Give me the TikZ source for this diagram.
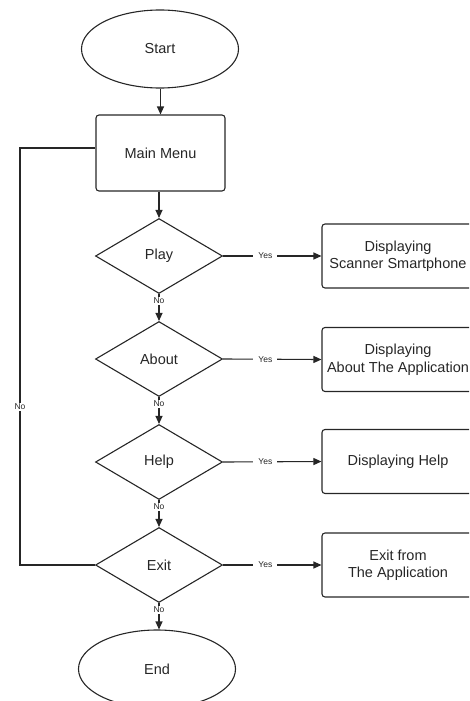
\documentclass[tikz,border=0pt]{standalone}
\usepackage{fontspec}
\setmainfont{Liberation Sans}
\usetikzlibrary{shapes.geometric,arrows.meta}
\definecolor{ink}{HTML}{262626}
\tikzset{
  base/.style={draw=ink, line width=1.1pt, text=ink, font=\fontsize{14.5}{17.5}\selectfont, align=center, inner sep=0pt},
  terminal/.style={base, ellipse, minimum width=157pt, minimum height=78pt},
  process/.style={base, rectangle, rounded corners=3pt, minimum width=129pt, minimum height=76pt},
  outbox/.style={base, rectangle, rounded corners=3pt, minimum width=152pt, minimum height=64pt},
  decision/.style={base, diamond, minimum width=127pt, minimum height=75pt},
  flow/.style={draw=ink, line width=1.1pt, -{Triangle[length=8pt,width=7pt]}},
  tag/.style={fill=white, text=ink, font=\fontsize{8.5}{9}\selectfont, inner sep=1pt},
  yestag/.style={tag, inner xsep=5pt}
}
\begin{document}
\begin{tikzpicture}[x=1pt,y=-1pt]
\useasboundingbox (0,0) rectangle (469,701);
\begin{scope}
\clip (0,0) rectangle (469,701);
% main column
\node[terminal] (start) at (160,49) {Start};
\node[process]  (menu)  at (160.5,153) {Main Menu};
\node[decision] (play)  at (159,256) {Play};
\node[decision] (about) at (159,359) {About};
\node[decision] (help)  at (159,462) {Help};
\node[decision] (exit)  at (159,565) {Exit};
\node[terminal] (end)   at (157,669) {End};
% result boxes
\node[outbox] (rplay)  at (398,256) {Displaying\\Scanner Smartphone};
\node[outbox] (rabout) at (398,359.5) {Displaying\\About The Application};
\node[outbox] (rhelp)  at (398,461.5) {Displaying Help};
\node[outbox] (rexit)  at (398,565) {Exit from\\The Application};
% vertical flow
\draw[flow] (start.south -| menu.north) -- (menu.north);
\draw[flow] (menu.south -| play.north) -- (play.north);
\draw[flow] (play.south) -- node[tag, pos=0.25] {No} (about.north);
\draw[flow] (about.south) -- node[tag, pos=0.25] {No} (help.north);
\draw[flow] (help.south) -- node[tag, pos=0.25] {No} (exit.north);
\draw[flow] (exit.south) -- node[tag, pos=0.25] {No} (end.north -| exit.south);
% yes branches
\draw[flow] (play.east) -- node[yestag, pos=0.43] {Yes} (rplay.west);
\draw[flow] (about.east) -- node[yestag, pos=0.43] {Yes} (rabout.west);
\draw[flow] (help.east) -- node[yestag, pos=0.43] {Yes} (rhelp.west);
\draw[flow] (exit.east) -- node[yestag, pos=0.43] {Yes} (rexit.west);
% loop back to the menu
\coordinate (lb) at (20,565);
\coordinate (lt) at (20,148);
\draw[draw=ink, line width=1.1pt] (exit.west) -- (lb) -- node[tag, pos=0.38] {No} (lt) -- (lt -| menu.west);
\end{scope}
\end{tikzpicture}
\end{document}
